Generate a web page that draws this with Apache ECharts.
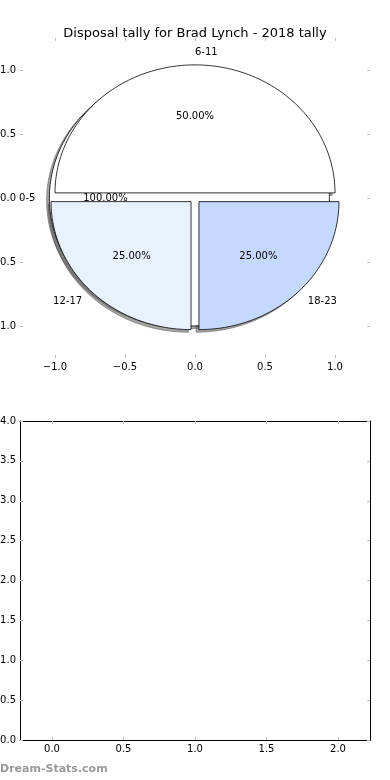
<!DOCTYPE html>
<html><head><meta charset="utf-8">
<script src="https://cdn.jsdelivr.net/npm/echarts@6/dist/echarts.min.js"></script>
<style>html,body{margin:0;padding:0;background:#fff}#c{width:390px;height:780px}</style>
</head><body><div id="c"></div>
<script>
const titleText = 'Disposal tally for Brad Lynch - 2018 tally';
const backLabels = ['0-5'];
const backValues = [1];
const backColors = ['#ffffff'];
const pieLabels = ['6-11', '12-17', '18-23'];
const pieValues = [2, 1, 1];
const pieColors = ['#ffffff', '#eaf1fe', '#c5d8fe'];
const pieTicks = [-1, -0.5, 0, 0.5, 1];
const barXTicks = [0, 0.5, 1, 1.5, 2];
const barYTicks = [0, 0.5, 1, 1.5, 2, 2.5, 3, 3.5, 4];
const watermark = 'Dream-Stats.com';

const FONT = '"DejaVu Sans", sans-serif';
const explode = 0.04;

function buildWedges(values, labels, colors) {
  const total = values.reduce((a, b) => a + b, 0);
  let t = 0;
  return values.map((v, i) => {
    const t1 = t, t2 = t + 360 * v / total;
    t = t2;
    return { label: labels[i], color: colors[i], t1, t2, pct: (100 * v / total).toFixed(2) + '%' };
  });
}
const wedges = buildWedges(backValues, backLabels, backColors)
  .concat(buildWedges(pieValues, pieLabels, pieColors));

function center(w) {
  const mid = (w.t1 + w.t2) / 2 * Math.PI / 180;
  return [explode * Math.cos(mid), explode * Math.sin(mid), mid];
}
function wedgePoints(w, dx, dy) {
  const [cx0, cy0] = center(w);
  const cx = cx0 + dx, cy = cy0 + dy;
  const pts = [];
  const full = (w.t2 - w.t1) >= 359.999;
  if (!full) pts.push([cx, cy]);
  const n = Math.max(4, Math.ceil((w.t2 - w.t1) / 1.5));
  for (let i = 0; i <= n; i++) {
    const a = (w.t1 + (w.t2 - w.t1) * i / n) * Math.PI / 180;
    pts.push([cx + Math.cos(a), cy + Math.sin(a)]);
  }
  return pts;
}

const fmt = v => (v < 0 ? '\u2212' : '') + Math.abs(v).toFixed(1);
const tickStyle = { inside: true, length: 3, lineStyle: { color: '#bbbbbb', width: 1 } };
const lblStyle = { fontSize: 10, color: '#000', fontFamily: FONT };

function ax(grid, pos, min, max, ticks, showLabel, showLine) {
  return {
    type: 'value', gridIndex: grid, position: pos, min, max,
    axisLine: { show: showLine, onZero: false, lineStyle: { color: '#000', width: 1 } },
    splitLine: { show: false },
    axisTick: Object.assign({ customValues: ticks }, tickStyle),
    axisLabel: Object.assign({ show: showLabel, customValues: ticks, formatter: fmt, margin: 4 }, lblStyle)
  };
}

const dataIdx = wedges.map((w, i) => [0, 0, i]);

const option = {
  animation: false,
  backgroundColor: '#fff',
  title: {
    text: titleText, left: 'center', top: 22,
    textStyle: { fontSize: 13, fontWeight: 'normal', color: '#000', fontFamily: FONT }
  },
  grid: [
    { left: 20, width: 350, top: 38, height: 320, outerBoundsMode: 'none', containLabel: false },
    { left: 20, width: 350, top: 421, height: 319, outerBoundsMode: 'none', containLabel: false }
  ],
  xAxis: [
    ax(0, 'bottom', -1.25, 1.25, pieTicks, true, false),
    ax(0, 'top', -1.25, 1.25, pieTicks, false, false),
    ax(1, 'bottom', -0.224, 2.224, barXTicks, true, true),
    ax(1, 'top', -0.224, 2.224, barXTicks, false, true)
  ],
  yAxis: [
    ax(0, 'left', -1.25, 1.25, pieTicks, true, false),
    ax(0, 'right', -1.25, 1.25, pieTicks, false, false),
    ax(1, 'left', 0, 4, barYTicks, true, true),
    ax(1, 'right', 0, 4, barYTicks, false, true)
  ],
  graphic: [{
    type: 'text', left: 0, top: 764,
    style: { text: watermark, fontSize: 11, fontWeight: 'bold', fill: '#999999', fontFamily: FONT }
  }],
  series: [
    {
      type: 'custom', xAxisIndex: 0, yAxisIndex: 0, z: 1, clip: false,
      data: dataIdx, encode: { x: 0, y: 1 },
      renderItem: (params, api) => {
        const w = wedges[params.dataIndex];
        const pts = wedgePoints(w, -0.02, -0.02).map(p => api.coord(p));
        return { type: 'polygon', shape: { points: pts },
          style: { fill: 'rgba(77,77,77,0.5)', stroke: 'rgba(77,77,77,0.5)', lineWidth: 1 } };
      }
    },
    {
      type: 'custom', xAxisIndex: 0, yAxisIndex: 0, z: 2, clip: false,
      data: dataIdx, encode: { x: 0, y: 1 },
      renderItem: (params, api) => {
        const w = wedges[params.dataIndex];
        const pts = wedgePoints(w, 0, 0).map(p => api.coord(p));
        return { type: 'polygon', shape: { points: pts },
          style: { fill: w.color, stroke: '#000', lineWidth: 0.8 } };
      }
    },
    {
      type: 'custom', xAxisIndex: 0, yAxisIndex: 0, z: 3, clip: false,
      data: dataIdx, encode: { x: 0, y: 1 },
      renderItem: (params, api) => {
        const w = wedges[params.dataIndex];
        const [cx, cy, mid] = center(w);
        const lx = cx + 1.1 * Math.cos(mid), ly = cy + 1.1 * Math.sin(mid);
        const px = cx + 0.6 * Math.cos(mid), py = cy + 0.6 * Math.sin(mid);
        const lp = api.coord([lx, ly]);
        const pp = api.coord([px, py]);
        return { type: 'group', children: [
          { type: 'text', style: { text: w.label, x: lp[0], y: lp[1], align: lx > 0 ? 'left' : 'right',
            verticalAlign: 'middle', fontSize: 10, fontFamily: FONT, fill: '#000' } },
          { type: 'text', style: { text: w.pct, x: pp[0], y: pp[1], align: 'center',
            verticalAlign: 'middle', fontSize: 10, fontFamily: FONT, fill: '#000' } }
        ] };
      }
    }
  ]
};
const chart = echarts.init(document.getElementById('c'), null, { renderer: 'canvas' });
chart.setOption(option);
</script></body></html>
